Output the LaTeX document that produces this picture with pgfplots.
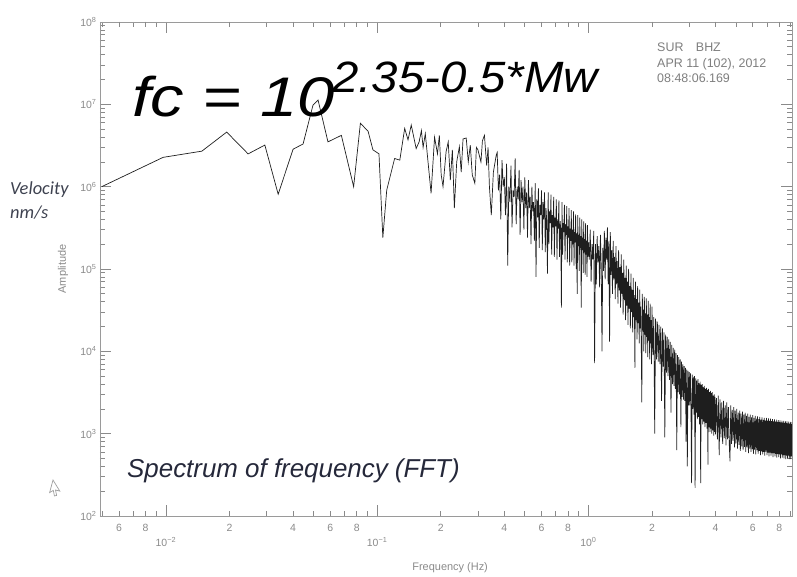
\documentclass[border=0pt]{standalone}
\usepackage{pgfplots}
\pgfplotsset{compat=1.18}
\usepackage{fontspec}
\setmainfont{Liberation Sans}
\newfontfamily\carlito{Carlito}
\definecolor{axgray}{HTML}{9A9A9A}
\definecolor{tickgray}{HTML}{8A8A8A}
\definecolor{velcol}{HTML}{3E4250}
\definecolor{speccol}{HTML}{25283A}
\definecolor{infogray}{HTML}{7E7E7E}
\definecolor{linecol}{HTML}{1E1E1E}
\begin{document}
\begin{tikzpicture}
\begin{axis}[
  name=ax, at={(0,0)}, anchor=south west,
  scale only axis, width=692bp, height=494bp,
  xmode=log, ymode=log,
  xmin=0.004875, xmax=9.2, ymin=100, ymax=1e8,
  axis line style={draw=axgray, line width=0.9bp},
  tick style={draw=tickgray, line width=0.7bp},
  tick align=inside, xtick pos=both, ytick pos=both,
  xticklabel pos=bottom, yticklabel pos=left,
  major tick length=11bp, minor tick length=5bp,
  tick label style={text=tickgray, font=\fontsize{10.5}{11}\selectfont},
  xtick={0.01,0.1,1},
  xticklabels={10\textsuperscript{−2},10\textsuperscript{−1},10\textsuperscript{0}},
  xticklabel style={yshift=-18bp},
  minor xtick={0.005,0.006,0.007,0.008,0.009,0.02,0.03,0.04,0.05,0.06,0.07,0.08,0.09,0.2,0.3,0.4,0.5,0.6,0.7,0.8,0.9,2,3,4,5,6,7,8,9},
  extra x ticks={0.006,0.008,0.02,0.04,0.06,0.08,0.2,0.4,0.6,0.8,2,4,6,8},
  extra x tick labels={6,8,2,4,6,8,2,4,6,8,2,4,6,8},
  extra x tick style={major tick length=5bp, xticklabel style={yshift=13bp}},
  ytick={1e2,1e3,1e4,1e5,1e6,1e7,1e8},
  yticklabels={10\textsuperscript{2},10\textsuperscript{3},10\textsuperscript{4},10\textsuperscript{5},10\textsuperscript{6},10\textsuperscript{7},10\textsuperscript{8}},
  minor ytick={2e2,3e2,4e2,5e2,6e2,7e2,8e2,9e2,2e3,3e3,4e3,5e3,6e3,7e3,8e3,9e3,2e4,3e4,4e4,5e4,6e4,7e4,8e4,9e4,2e5,3e5,4e5,5e5,6e5,7e5,8e5,9e5,2e6,3e6,4e6,5e6,6e6,7e6,8e6,9e6,2e7,3e7,4e7,5e7,6e7,7e7,8e7,9e7},
  xlabel={Frequency (Hz)},
  xlabel style={at={(axis description cs:0.506,-0.105)}, anchor=center, text=tickgray, font=\fontsize{11}{12}\selectfont},
  ylabel={Amplitude},
  ylabel style={at={(axis description cs:-0.0535,0.5)}, anchor=center, text=tickgray, font=\fontsize{11}{12}\selectfont},
]
\addplot[linecol, line width=0.7bp, mark=none] coordinates {
(0.00497,1.0e6) (0.0097,2.27e6) (0.0148,2.7e6) (0.0194,4.6e6) (0.0245,2.5e6) (0.0294,3.2e6)
(0.034,8.1e5) (0.040,2.85e6) (0.0446,3.3e6) (0.0497,9.8e6) (0.0525,1.13e7) (0.0585,3.5e6)
(0.0677,4.2e6) (0.0774,1.0e6) (0.0833,5.9e6) (0.0906,4.7e6) (0.0955,2.8e6) (0.102,2.5e6)
(0.1064,2.4e5) (0.111,9.1e5) (0.121,2.2e6) (0.128,2.1e6) (0.135,5.1e6) (0.140,3.7e6)
(0.145,5.6e6) (0.153,2.9e6) (0.158,3.5e6) (0.162,4.8e6) (0.165,3.0e6) (0.169,4.4e6)
(0.180,8.3e5) (0.187,4.0e6) (0.193,2.5e6) (0.197,4.2e6) (0.201,1.39e6) (0.205,1.0e6)
(0.212,2.66e6) (0.217,3.5e6) (0.222,1.2e6) (0.227,2.8e6) (0.232,5.5e5) (0.238,2.0e6)
(0.245,3.05e6) (0.250,1.5e6) (0.255,3.8e6) (0.264,3.9e6) (0.270,2.0e6) (0.276,3.2e6)
(0.282,1.39e6) (0.290,1.1e6) (0.295,3.0e6) (0.300,2.8e6) (0.310,2.0e6) (0.315,3.6e6)
(0.322,4.2e6) (0.330,1.8e6) (0.335,3.0e6) (0.340,1.0e6) (0.347,4.5e5) (0.355,1.5e6)
(0.366,2.4e6)
(0.370,2.6e6) (0.375,9.0e5) (0.380,1.4e6) (0.385,4.0e5) (0.390,2.1e6) (0.395,1.0e6) (0.400,1.3e6)
(0.405,4.5e5) (0.410,1.9e6) (0.415,1.1e5) (0.420,1.0e6) (0.425,6.5e5) (0.430,1.8e6) (0.435,3.2e5)
(0.440,9.0e5) (0.445,7.5e5) (0.450,2.2e6) (0.455,3.5e5) (0.460,1.0e6) (0.465,7.0e5) (0.470,1.6e6)
(0.475,2.6e5) (0.480,1.2e6) (0.485,6.5e5) (0.490,1.0e6) (0.495,3.0e5) (0.500,1.3e6) (0.505,5.5e5)
(0.510,8.5e5) (0.515,2.4e5) (0.520,1.2e6) (0.525,5.5e5) (0.530,7.5e5) (0.535,2.0e5) (0.540,1.0e6)
(0.545,5.0e5) (0.550,6.5e5) (0.555,2.2e5) (0.560,1.1e6) (0.565,8.0e4) (0.570,7.0e5) (0.575,4.2e5)
(0.580,9.5e5) (0.585,1.8e5) (0.590,6.0e5) (0.595,4.5e5) (0.600,9.0e5) (0.605,1.7e5) (0.610,6.5e5)
(0.615,4.0e5) (0.620,8.5e5) (0.625,1.6e5) (0.630,5.5e5) (0.635,3.8e5) (0.640,8.8e4) (0.645,8.5e5)
(0.650,2.0e5) (0.655,5.0e5) (0.660,3.6e5) (0.665,8.0e5) (0.670,1.5e5) (0.675,4.5e5) (0.680,3.2e5)
(0.685,7.5e5) (0.690,1.4e5) (0.695,4.2e5) (0.700,3.3e5) (0.705,7.0e5) (0.710,1.3e5) (0.715,4.0e5)
(0.720,3.1e5) (0.725,6.8e5) (0.730,1.4e5) (0.735,3.8e5) (0.740,3.0e5) (0.745,3.4e4) (0.750,6.5e5)
(0.755,1.5e5) (0.760,3.6e5) (0.765,2.8e5) (0.770,6.0e5) (0.775,1.3e5) (0.780,3.5e5) (0.785,2.6e5)
(0.790,5.8e5) (0.795,1.2e5) (0.800,3.3e5) (0.805,2.4e5) (0.810,5.5e5) (0.815,1.1e5) (0.820,3.1e5)
(0.825,2.2e5) (0.830,5.2e5) (0.835,1.2e5) (0.840,3.0e5) (0.845,2.0e5) (0.850,5.0e5) (0.855,1.1e5)
(0.860,2.8e5) (0.865,2.1e5) (0.870,4.6e5) (0.875,1.0e5) (0.880,2.7e5) (0.885,5.0e4) (0.890,4.5e5)
(0.895,1.9e5) (0.900,2.6e5) (0.905,9.5e4) (0.910,4.2e5) (0.915,1.8e5) (0.920,2.5e5) (0.925,3.4e4)
(0.930,4.0e5) (0.935,1.7e5) (0.940,2.4e5) (0.945,9.0e4) (0.950,3.8e5) (0.955,1.6e5) (0.960,2.3e5)
(0.965,8.5e4) (0.970,3.6e5) (0.975,1.5e5) (0.980,2.2e5) (0.985,8.0e4) (0.990,3.4e5) (0.995,1.4e5)
(1.000,2.1e5)
(1.01,1.3e5) (1.02,3.0e5) (1.03,7.0e4) (1.04,2.0e5) (1.05,1.3e5) (1.06,2.9e5) (1.07,7.2e3)
(1.08,2.0e5) (1.09,6.5e4) (1.10,2.5e5) (1.11,1.2e5) (1.12,1.9e5) (1.13,6.0e4) (1.14,2.6e5)
(1.15,1.1e5) (1.16,1.0e4) (1.17,1.8e5) (1.18,9.5e4) (1.19,2.9e5) (1.20,7.5e4) (1.21,2.4e5)
(1.22,1.3e5) (1.23,3.2e5) (1.24,6.5e4) (1.25,2.2e5) (1.26,1.3e4) (1.27,2.8e5) (1.28,8.5e4)
(1.29,1.7e5) (1.30,5.0e4) (1.31,2.2e5) (1.32,7.5e4) (1.33,1.4e5) (1.34,4.3e4) (1.35,1.9e5)
(1.36,6.5e4) (1.37,1.25e5) (1.38,3.8e4) (1.39,1.7e5) (1.40,5.5e4) (1.41,1.05e5) (1.42,3.4e4)
(1.43,1.5e5) (1.44,5.0e4) (1.45,9.0e4) (1.46,2.8e4) (1.47,1.3e5) (1.48,4.2e4) (1.49,7.8e4)
(1.50,2.4e4) (1.51,1.1e5) (1.52,3.6e4) (1.53,7.0e4) (1.54,2.1e4) (1.55,1.0e5) (1.56,3.3e4)
(1.57,6.2e4) (1.58,1.9e4) (1.59,8.8e4) (1.60,3.0e4) (1.61,5.6e4) (1.62,1.7e4) (1.63,7.8e4)
(1.64,2.6e4) (1.65,4.8e4) (1.66,6.3e3) (1.67,7.0e4) (1.68,2.4e4) (1.69,4.3e4) (1.70,1.4e4)
(1.71,6.2e4) (1.72,2.2e4) (1.73,3.9e4) (1.74,1.25e4) (1.75,5.6e4) (1.76,1.9e4) (1.77,3.5e4)
(1.78,1.1e4) (1.79,2.4e3) (1.80,5.0e4) (1.81,1.8e4) (1.82,3.2e4) (1.83,1.0e4) (1.84,4.6e4)
(1.85,1.6e4) (1.86,2.9e4) (1.87,9.5e3) (1.88,4.4e4) (1.89,1.5e4) (1.90,2.8e4) (1.91,8.5e3)
(1.92,4.1e4) (1.93,1.35e4) (1.94,2.6e4) (1.95,8.0e3) (1.96,3.8e4) (1.97,1.25e4) (1.98,2.4e4)
(1.99,7.0e3) (2.00,3.5e4)
(2.02,9.0e3) (2.04,2.6e4) (2.06,1.0e3) (2.08,2.5e4) (2.10,8.0e3) (2.12,2.3e4) (2.14,7.5e3)
(2.16,2.1e4) (2.18,7.0e3) (2.20,2.0e4) (2.22,2.5e3) (2.24,1.9e4) (2.26,6.5e3) (2.28,1.7e4)
(2.30,9.0e2) (2.32,1.6e4) (2.34,5.5e3) (2.36,1.5e4) (2.38,5.0e3) (2.40,1.4e4) (2.42,4.5e3)
(2.44,1.3e4) (2.46,1.8e3) (2.48,1.2e4) (2.50,4.0e3) (2.52,1.1e4) (2.54,3.8e3) (2.56,1.05e4)
(2.58,3.5e3) (2.60,9.5e3) (2.62,6.3e2) (2.64,9.0e3) (2.66,3.2e3) (2.68,8.5e3) (2.70,3.0e3)
(2.72,8.0e3) (2.74,1.2e3) (2.76,7.5e3) (2.78,2.8e3) (2.80,7.0e3) (2.82,2.6e3) (2.84,6.6e3)
(2.86,2.5e3) (2.88,6.3e3) (2.90,8.0e2) (2.92,6.0e3) (2.94,4.0e2) (2.96,5.8e3) (2.98,2.2e3)
(3.00,5.6e3)
(3.02,2.2e3) (3.04,5.4e3) (3.06,1.9e3) (3.08,2.5e2) (3.10,5.2e3) (3.12,2.0e3) (3.14,4.9e3)
(3.16,1.7e3) (3.18,5.0e3) (3.20,2.2e2) (3.22,4.7e3) (3.24,1.8e3) (3.26,4.4e3) (3.28,1.5e3)
(3.30,4.6e3) (3.32,1.6e3) (3.34,4.1e3) (3.36,1.3e3) (3.38,4.3e3) (3.40,2.5e2) (3.42,3.9e3)
(3.44,1.5e3) (3.46,4.0e3) (3.48,1.3e3) (3.50,3.7e3) (3.52,1.4e3) (3.54,3.8e3) (3.56,1.2e3)
(3.58,3.5e3) (3.60,1.35e3) (3.62,3.6e3) (3.64,1.15e3) (3.66,3.4e3) (3.68,4.2e2) (3.70,3.5e3)
(3.72,1.2e3) (3.74,3.2e3) (3.76,1.05e3) (3.78,3.3e3) (3.80,1.15e3) (3.82,3.1e3) (3.84,1.0e3)
(3.86,3.2e3) (3.88,1.1e3) (3.90,2.9e3) (3.92,9.5e2) (3.94,3.0e3) (3.96,1.05e3) (3.98,2.8e3)
(4.00,9.8e2)
(4.04,2.7e3) (4.08,8.5e2) (4.12,2.9e3)
(4.16,5.5e2) (4.20,2.6e3) (4.24,9.0e2) (4.28,2.4e3) (4.32,7.5e2) (4.36,2.5e3) (4.40,8.8e2)
(4.44,2.2e3) (4.48,7.2e2) (4.52,2.4e3) (4.56,8.5e2) (4.60,2.1e3) (4.64,7.8e2) (4.68,4.6e2)
(4.72,2.2e3) (4.76,7.5e2) (4.80,1.95e3) (4.84,8.2e2) (4.88,2.1e3) (4.92,6.8e2) (4.96,1.9e3)
(5.00,7.6e2) (5.04,2.0e3) (5.08,6.6e2) (5.12,1.8e3) (5.16,7.3e2) (5.20,1.9e3) (5.24,6.2e2)
(5.28,1.75e3) (5.32,7.0e2) (5.36,1.85e3) (5.40,6.3e2) (5.44,1.7e3) (5.48,6.9e2) (5.52,1.8e3)
(5.56,6.0e2) (5.60,1.65e3) (5.64,6.8e2) (5.68,1.75e3) (5.72,5.8e2) (5.76,1.6e3) (5.80,6.6e2)
(5.84,1.7e3) (5.88,6.0e2) (5.92,1.58e3) (5.96,6.5e2) (6.00,1.68e3) (6.04,5.7e2) (6.08,1.55e3)
(6.12,6.4e2) (6.16,1.65e3) (6.20,5.6e2) (6.24,1.52e3) (6.28,6.3e2) (6.32,1.62e3) (6.36,5.7e2)
(6.40,1.5e3) (6.44,6.2e2) (6.48,1.6e3) (6.52,5.5e2) (6.56,1.48e3) (6.60,6.1e2) (6.64,1.58e3)
(6.68,5.6e2) (6.72,1.47e3) (6.76,6.0e2) (6.80,1.56e3) (6.84,5.4e2) (6.88,1.45e3) (6.92,6.0e2)
(6.96,1.55e3) (7.00,5.5e2) (7.04,1.44e3) (7.08,5.9e2) (7.12,1.53e3) (7.16,5.3e2) (7.20,1.43e3)
(7.24,5.9e2) (7.28,1.52e3) (7.32,5.4e2) (7.36,1.42e3) (7.40,5.8e2) (7.44,1.5e3) (7.48,5.2e2)
(7.52,1.41e3) (7.56,5.8e2) (7.60,1.49e3) (7.64,5.3e2) (7.68,1.4e3) (7.72,5.7e2) (7.76,1.48e3)
(7.80,5.1e2) (7.84,1.39e3) (7.88,5.7e2) (7.92,1.46e3) (7.96,5.2e2) (8.00,1.38e3) (8.04,5.6e2)
(8.08,1.45e3) (8.12,5.0e2) (8.16,1.37e3) (8.20,5.6e2) (8.24,1.44e3) (8.28,5.1e2) (8.32,1.36e3)
(8.36,5.5e2) (8.40,1.43e3) (8.44,5.0e2) (8.48,1.35e3) (8.52,5.5e2) (8.56,1.42e3) (8.60,4.9e2)
(8.64,1.34e3) (8.68,5.4e2) (8.72,1.41e3) (8.76,5.0e2) (8.80,1.33e3) (8.84,5.4e2) (8.88,1.4e3)
(8.92,4.9e2) (8.96,1.32e3) (9.00,5.3e2) (9.04,1.39e3) (9.08,4.9e2) (9.12,1.31e3) (9.16,5.3e2)
(9.20,1.38e3) (9.24,4.8e2) (9.28,1.3e3) (9.32,5.2e2) (9.36,1.37e3) (9.40,4.8e2) (9.44,1.3e3)
(9.48,5.2e2) (9.52,1.36e3) (9.56,4.8e2) (9.60,1.3e3)
};
\end{axis}
% overlaid annotations
\node[anchor=base west, inner sep=0, xscale=1.2, font=\fontsize{56}{60}\selectfont\itshape] at (32bp,399bp) {fc = 10};
\node[anchor=base west, inner sep=0, xscale=1.08, font=\fontsize{44}{48}\selectfont\itshape] at (232bp,423bp) {2.35-0.5*Mw};
\node[anchor=north west, align=left, inner sep=0, font=\fontsize{12.5}{15.5}\selectfont, text=infogray] at (557bp,473bp) {SUR\quad BHZ\\APR 11 (102), 2012\\08:48:06.169};
\node[anchor=west, inner sep=0, font=\carlito\itshape\fontsize{18.5}{19}\selectfont, text=velcol] at (-90bp,326bp) {Velocity};
\node[anchor=west, inner sep=0, font=\carlito\itshape\fontsize{18.5}{19}\selectfont, text=velcol] at (-90bp,303bp) {nm/s};
\node[anchor=base west, inner sep=0, font=\fontsize{26}{28}\selectfont\itshape, text=speccol] at (27bp,39bp) {Spectrum of frequency (FFT)};
\draw[gray!75, line width=0.7bp, fill=white, rotate around={-15:(-47bp,36bp)}] (-47bp,36bp) -- ++(0,-13bp) -- ++(3bp,3bp) -- ++(2.5bp,-5bp) -- ++(2bp,1bp) -- ++(-2.5bp,5bp) -- ++(4.5bp,0) -- cycle;
\pgfresetboundingbox
\path[use as bounding box] (-100bp,-61bp) rectangle (697bp,516bp);
\end{tikzpicture}
\end{document}
